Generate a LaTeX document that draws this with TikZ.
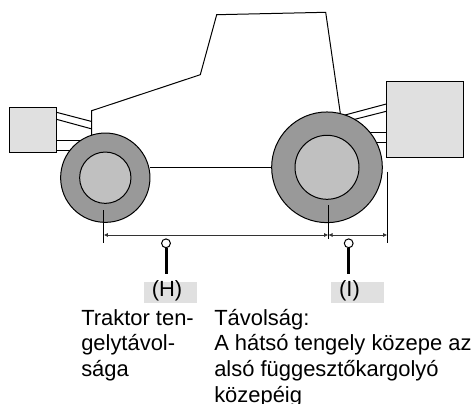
\documentclass[tikz,border=0pt]{standalone}
\usepackage{fontspec}
\setmainfont{Liberation Sans}
\definecolor{boxg}{HTML}{E0E0E0}
\definecolor{tyre}{HTML}{999999}
\definecolor{hub}{HTML}{C0C0C0}
\usetikzlibrary{arrows.meta}
\tikzset{
  px/.style={x=0.75pt,y=-0.75pt},
  ln/.style={draw=black,line width=0.75pt},
  dim/.style={draw=black!80,line width=0.75pt},
  hitch/.style={ln,fill=boxg,rectangle,inner sep=0pt,minimum width=#1},
  wheelo/.style={ln,fill=tyre,circle,inner sep=0pt,minimum size=#1},
  wheeli/.style={ln,fill=hub,circle,inner sep=0pt,minimum size=#1},
  pinhead/.style={circle,draw=black,line width=0.75pt,fill=white,inner sep=0pt,minimum size=6.6pt},
  pinline/.style={draw=black,line width=2.25pt},
  tag/.style={fill=boxg,rectangle,inner sep=0pt,minimum width=39.75pt,minimum height=15.5pt},
  taglabel/.style={font=\fontsize{16.45pt}{18pt}\selectfont},
  body/.style={align=left,anchor=base west,inner sep=0pt,font=\fontsize{16.45pt}{19.3pt}\selectfont},
}
\begin{document}
\begin{tikzpicture}[px]
\useasboundingbox (0,0) rectangle (472,404);
% rods behind the wheels
\coordinate (fa1) at (56.5,112.3); \coordinate (fb1) at (91.7,121.5);
\coordinate (fa2) at (56.5,119.3); \coordinate (fb2) at (91.7,128.9);
\coordinate (fa3) at (56.5,140);   \coordinate (fb3) at (85,140);
\coordinate (fa4) at (56.5,150);   \coordinate (fb4) at (85,150);
\coordinate (ra1) at (386.3,104);  \coordinate (rb1) at (345,115);
\coordinate (ra2) at (386.3,111.3);\coordinate (rb2) at (352,120);
\coordinate (ra3) at (386.3,132);  \coordinate (rb3) at (365,132);
\coordinate (ra4) at (386.3,142.3);\coordinate (rb4) at (372,142.3);
\foreach \a/\b in {fa1/fb1,fa2/fb2,fa3/fb3,fa4/fb4,ra1/rb1,ra2/rb2,ra3/rb3,ra4/rb4}
  \draw[ln] (\a) -- (\b);
% body
\coordinate (b0) at (91.7,140);
\coordinate (b1) at (91.7,110.7);
\coordinate (b2) at (200.3,74.7);
\coordinate (b3) at (216.7,14.7);
\coordinate (b4) at (325.7,12.3);
\coordinate (b5) at (340.7,116);
\draw[ln] (b0) -- (b1) -- (b2) -- (b3) -- (b4) -- (b5);
% hitch boxes
\node[hitch=35.25pt,minimum height=34pt] (lbox) at (32.8,130) {};
\node[hitch=57.75pt,minimum height=57.2pt] (rbox) at (424.8,119.8) {};
% wheels
\node[wheelo=67pt] (fw) at (105.3,177.7) {};
\node[wheeli=38.5pt] (fh) at (105.3,177.7) {};
\node[wheelo=83pt] (rw) at (327,167.3) {};
\node[wheeli=48pt] (rh) at (327,167.3) {};
\draw[ln] (fw.east |- 0,167.3) -- (rw.west |- 0,167.3);
% dimension lines
\coordinate (d1a) at (103.7,210); \coordinate (d1b) at (103.7,243);
\coordinate (d2a) at (328.3,205); \coordinate (d2b) at (328.3,238.5);
\coordinate (d3a) at (387.3,171.7); \coordinate (d3b) at (387.3,242.5);
\coordinate (m1) at (103.7,235); \coordinate (m2) at (328.3,235); \coordinate (m3) at (387.3,235);
\draw[ln] (d1a) -- (d1b);
\draw[ln] (d2a) -- (d2b);
\draw[ln] (d3a) -- (d3b);
\draw[dim,{Latex[length=3.2pt,width=3.2pt]}-{Latex[length=3.2pt,width=3.2pt]}] (m1) -- (m2);
\draw[dim,{Latex[length=3.2pt,width=3.2pt]}-{Latex[length=3.2pt,width=3.2pt]}] (m2) -- (m3);
% tags and pins
\node[tag] (tH) at (170.5,292.3) {};
\node[tag] (tI) at (357.5,292.3) {};
\node[pinhead] (pH) at (166,243.3) {};
\node[pinhead] (pI) at (348.7,243.3) {};
\coordinate (eH) at (166,273.5);
\coordinate (eI) at (348.7,273.5);
\draw[pinline] (pH) -- (eH);
\draw[pinline] (pI) -- (eI);
\node[taglabel,anchor=base] (lH) at (167,296) {(H)};
\node[taglabel,anchor=base] (lI) at (349.5,296) {(I)};
% descriptions
\node[body] (dH) at (81,376.5) {Traktor ten-\\gelytávol-\\sága};
\node[body] (dI) at (214,402.2) {Távolság:\\A hátsó tengely közepe az\\alsó függesztőkargolyó\\közepéig};
\end{tikzpicture}
\end{document}
